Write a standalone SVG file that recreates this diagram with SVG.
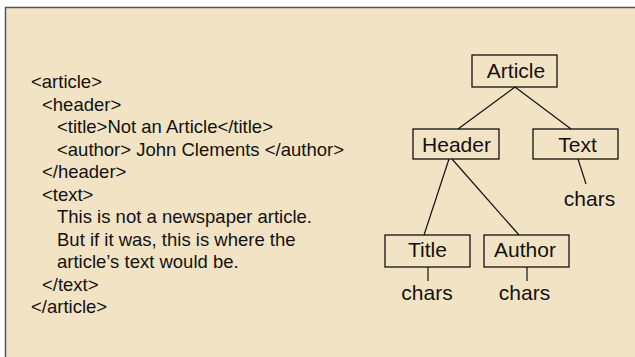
<svg xmlns="http://www.w3.org/2000/svg" width="635" height="357" viewBox="0 0 635 357">
<style>
.code{font-family:"Liberation Sans",Arial,sans-serif;font-size:18.5px;fill:#111}
.lbl{font-family:"Liberation Sans",Arial,sans-serif;font-size:21px;fill:#111;text-anchor:middle}
.box{fill:none;stroke:#111;stroke-width:1.3}
.edge{stroke:#111;stroke-width:1.2;fill:none}
</style>
<rect x="0" y="0" width="635" height="357" fill="#ffffff"/>
<rect x="5.5" y="7.5" width="640" height="360" fill="#F3E3C5" stroke="#555" stroke-width="1.5"/>
<g id="code">
<text class="code" x="31" y="88">&lt;article&gt;</text>
<text class="code" x="42" y="110.5">&lt;header&gt;</text>
<text class="code" x="57" y="133">&lt;title&gt;Not an Article&lt;/title&gt;</text>
<text class="code" x="57" y="155.5">&lt;author&gt; John Clements &lt;/author&gt;</text>
<text class="code" x="42" y="178">&lt;/header&gt;</text>
<text class="code" x="42" y="200.5">&lt;text&gt;</text>
<text class="code" x="57" y="223">This is not a newspaper article.</text>
<text class="code" x="57" y="245.5">But if it was, this is where the</text>
<text class="code" x="57" y="268">article’s text would be.</text>
<text class="code" x="42" y="290.5">&lt;/text&gt;</text>
<text class="code" x="31" y="313">&lt;/article&gt;</text>
</g>
<g id="connectors">
<line class="edge" x1="515" y1="87" x2="458" y2="129"/>
<line class="edge" x1="515" y1="87" x2="571" y2="129"/>
<line class="edge" x1="449" y1="159" x2="424" y2="235"/>
<line class="edge" x1="452" y1="159" x2="519" y2="235"/>
<line class="edge" x1="578" y1="159" x2="586" y2="184"/>
<line class="edge" x1="428" y1="267" x2="428" y2="281"/>
<line class="edge" x1="527" y1="267" x2="527" y2="281"/>
</g>
<g id="node-article">
<rect class="box" x="472" y="55" width="85" height="32"/>
<text class="lbl" x="516" y="78">Article</text>
</g>
<g id="node-header">
<rect class="box" x="413" y="129" width="86" height="30"/>
<text class="lbl" x="456.5" y="152">Header</text>
</g>
<g id="node-text">
<rect class="box" x="533" y="129" width="85" height="30"/>
<text class="lbl" x="577.5" y="152">Text</text>
</g>
<g id="node-title">
<rect class="box" x="385" y="235" width="85" height="32"/>
<text class="lbl" x="427.5" y="257">Title</text>
</g>
<g id="node-author">
<rect class="box" x="484" y="235" width="85" height="32"/>
<text class="lbl" x="525" y="257">Author</text>
</g>
<g id="chars-text">
<text class="lbl" x="589.5" y="206">chars</text>
</g>
<g id="chars-title">
<text class="lbl" x="427" y="300">chars</text>
</g>
<g id="chars-author">
<text class="lbl" x="524.5" y="300">chars</text>
</g>
</svg>
